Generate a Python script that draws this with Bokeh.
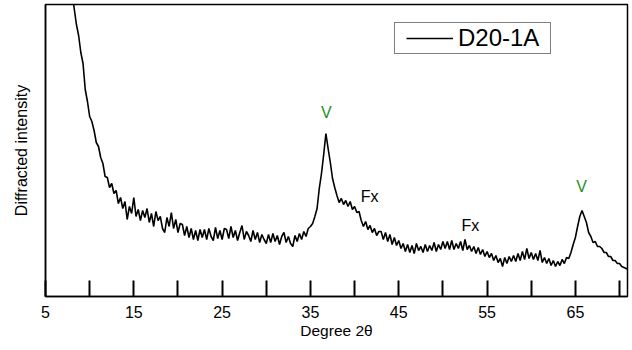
import numpy as np
from bokeh.plotting import figure
from bokeh.models import Range1d, FixedTicker, Legend, LegendItem, ColumnDataSource
from bokeh.core.properties import value
from bokeh.embed import file_html
from bokeh.resources import INLINE

# ---- data ----
two_theta = np.arange(8.0, 71.01, 0.25)
intensity = [
    3050, 2880, 2720, 2610, 2440, 2330, 2070, 1950, 1800, 1750,
    1660, 1540, 1500, 1390, 1330, 1200, 1190, 1090, 1130, 1030,
    1060, 930, 990, 880, 950, 770, 900, 830, 990, 800,
    870, 760, 860, 790, 880, 740, 830, 700, 850, 760,
    800, 680, 640, 790, 700, 840, 680, 770, 640, 730,
    720, 610, 700, 590, 680, 570, 660, 560, 670, 590,
    670, 570, 680, 600, 560, 690, 580, 660, 570, 680,
    670, 580, 700, 590, 660, 560, 640, 710, 570, 650,
    610, 550, 660, 570, 640, 540, 620, 570, 530, 620,
    540, 630, 550, 610, 520, 600, 640, 540, 600, 530,
    500, 610, 550, 630, 570, 650, 600, 680, 700, 730,
    800, 880, 1080, 1230, 1420, 1630, 1480, 1340, 1180, 1090,
    1010, 940, 980, 920, 960, 900, 950, 870, 900, 840,
    850, 760, 700, 750, 670, 710, 640, 680, 610, 650,
    650, 570, 640, 550, 620, 520, 590, 510, 560, 480,
    530, 450, 520, 440, 510, 430, 530, 460, 500, 440,
    520, 450, 510, 460, 540, 450, 520, 470, 550, 480,
    550, 470, 560, 470, 530, 480, 550, 460, 570, 470,
    510, 450, 500, 430, 490, 420, 470, 400, 450, 390,
    430, 360, 410, 340, 380, 300, 390, 330, 400, 350,
    410, 350, 430, 360, 450, 370, 480, 380, 440, 370,
    430, 360, 460, 340, 390, 330, 380, 310, 360, 300,
    350, 310, 370, 330, 390, 380, 440, 520, 590, 700,
    800, 860, 800, 740, 640, 600, 540, 550, 500, 500,
    480, 440, 440, 400, 400, 360, 360, 330, 330, 300,
    290, 280, 270,
]
assert len(intensity) == len(two_theta)

series_name = "D20-1A"
x_ticks = [5, 10, 15, 20, 25, 30, 35, 40, 45, 50, 55, 60, 65, 70]
x_labeled = [5, 15, 25, 35, 45, 55, 65]

peak_labels = ["V", "Fx", "Fx", "V"]
peak_x = [36.8, 41.7, 53.1, 65.7]
peak_y = [1840, 1000, 710, 1100]
peak_colors = ["#1f8f1f", "black", "black", "#1f8f1f"]

FONT = "Liberation Sans"

p = figure(
    width=632, height=350,
    frame_width=582, frame_height=292,
    min_border_left=45, min_border_right=5, min_border_top=4, min_border_bottom=54,
    x_range=Range1d(5, 70.9), y_range=Range1d(0, 2920),
    output_backend="svg", toolbar_location=None,
)
p.background_fill_color = "white"
p.border_fill_color = "white"
p.outline_line_color = "black"
p.outline_line_width = 1.5
p.xgrid.visible = False
p.ygrid.visible = False

r = p.line(two_theta, intensity, line_color="black", line_width=1.6)

# x axis
xa = p.xaxis[0]
xa.ticker = FixedTicker(ticks=x_ticks)
xa.major_label_overrides = {t: ("" if t not in x_labeled else str(t)) for t in x_ticks}
xa.minor_tick_line_color = None
xa.major_tick_in = 16
xa.major_tick_out = 0
xa.major_tick_line_width = 2
xa.major_tick_line_color = "black"
xa.axis_line_color = "black"
xa.axis_line_width = 1.5
xa.major_label_standoff = 9
xa.major_label_text_font = FONT
xa.major_label_text_font_size = "16px"
xa.major_label_text_color = "black"
xa.axis_label = "Degree 2\u03b8"
xa.axis_label_text_font = FONT
xa.axis_label_text_font_size = "15.5px"
xa.axis_label_text_font_style = "normal"
xa.axis_label_text_color = "black"
xa.axis_label_standoff = 1

# y axis
ya = p.yaxis[0]
ya.ticker = FixedTicker(ticks=[])
ya.minor_tick_line_color = None
ya.major_tick_line_color = None
ya.major_label_text_font_size = "0px"
ya.axis_line_color = "black"
ya.axis_line_width = 1.5
ya.axis_label = "Diffracted intensity"
ya.axis_label_text_font = FONT
ya.axis_label_text_font_size = "16px"
ya.axis_label_text_font_style = "normal"
ya.axis_label_text_color = "black"
ya.axis_label_standoff = 16

# peak labels
src = ColumnDataSource(dict(x=peak_x, y=peak_y, t=peak_labels, c=peak_colors))
p.text(x="x", y="y", text="t", text_color="c", source=src,
       text_font=value(FONT), text_font_size="16px",
       text_align="center", text_baseline="middle")

# legend
leg = Legend(items=[LegendItem(label=series_name, renderers=[r])],
             location=(349, 242))
leg.border_line_color = "black"
leg.border_line_width = 1.5
leg.background_fill_color = "white"
leg.background_fill_alpha = 1
leg.label_text_font = FONT
leg.label_text_font_size = "24px"
leg.label_text_color = "black"
leg.glyph_width = 47
leg.glyph_height = 20
leg.label_standoff = 5
leg.label_height = 20
leg.margin = 0
leg.spacing = 0
try:
    leg.padding = (11, 1)
except Exception:
    leg.padding = 4
p.add_layout(leg)

open("out.html", "w").write(file_html(p, INLINE))
